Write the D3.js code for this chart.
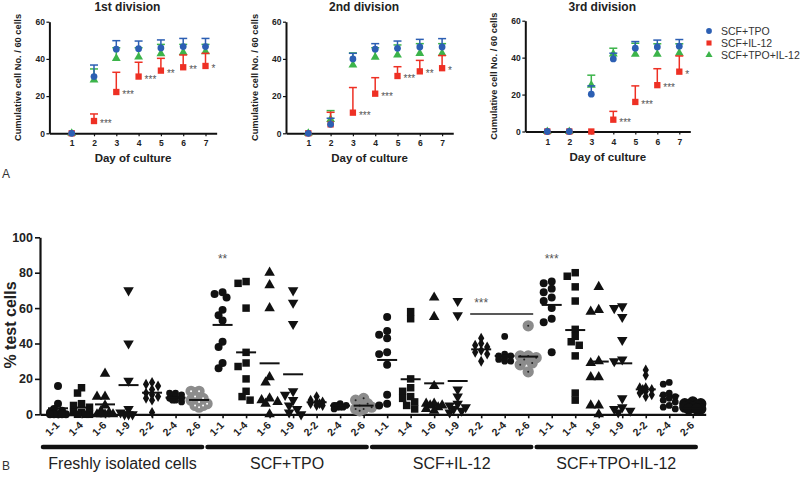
<!DOCTYPE html>
<html>
<head>
<meta charset="utf-8">
<script src="https://cdn.jsdelivr.net/npm/d3@7"></script>
<style>
  body { margin: 0; background: #fff; }
  svg { display: block; font-family: "Liberation Sans", Arial, sans-serif; }
</style>
</head>
<body>
<svg id="chart" width="800" height="477"></svg>
<script>

/**
 * panel A data : cumulative cell no. / 60 cells, one-sided (upper) error bars
 */
var day_list = [1, 2, 3, 4, 5, 6, 7];
var series_names = ['SCF+TPO', 'SCF+IL-12', 'SCF+TPO+IL-12'];
var division_titles = ['1st division', '2nd division', '3rd division'];

var div1_tpo = [0, 30.5, 45.2, 45.5, 45.9, 46.6, 46.6];
var div1_tpo_err = [0, 6.2, 4.6, 4.1, 4.3, 4.4, 4.4];
var div1_il12 = [0, 6.6, 22.2, 30.5, 33.7, 35.5, 36.2];
var div1_il12_err = [0, 3.8, 10.6, 7.7, 6.6, 6.6, 6.8];
var div1_tpoil12 = [0, 28.7, 40.3, 41, 42.8, 43.5, 43.9];
var div1_tpoil12_err = [0, 5.9, 5.7, 5, 5, 4.3, 3.9];
var div1_stars = ['', '***', '***', '***', '**', '**', '*'];

var div2_tpo = [0, 4.8, 40, 45.2, 45.7, 46.4, 46.4];
var div2_tpo_err = [0, 3.3, 3, 3, 3.9, 4.1, 4.5];
var div2_il12 = [0, 4.8, 11.1, 21.3, 30.8, 33.3, 35];
var div2_il12_err = [0, 6.5, 13.5, 8.6, 5, 5.9, 6.8];
var div2_tpoil12 = [0, 7.5, 36.7, 40.9, 42.1, 43, 43];
var div2_tpoil12_err = [0, 4.7, 6.5, 5.1, 5.4, 5.2, 5.2];
var div2_stars = ['', '', '***', '***', '***', '**', '*'];

var div3_tpo = [0, 0, 20.2, 39.3, 45.1, 45.8, 46.2];
var div3_tpo_err = [0, 0, 4.5, 3.1, 3.6, 3.7, 3.6];
var div3_il12 = [0, 0, 0, 6.4, 16, 25.1, 32.4];
var div3_il12_err = [0, 0, 0, 4.5, 8.7, 8.9, 8.5];
var div3_tpoil12 = [0, 0, 25.1, 42, 41.8, 41.8, 42.4];
var div3_tpoil12_err = [0, 0, 5.4, 3.1, 6, 5.7, 5.1];
var div3_stars = ['', '', '', '***', '***', '***', '*'];

var top_y_ticks = [0, 20, 40, 60];

/**
 * panel B data : % test cells per clone type, per culture condition
 */
var category_labels = ['1-1', '1-4', '1-6', '1-9', '2-2', '2-4', '2-6'];
var group_labels = ['Freshly isolated cells', 'SCF+TPO', 'SCF+IL-12', 'SCF+TPO+IL-12'];
var bottom_y_ticks = [0, 20, 40, 60, 80, 100];

var fresh_values = [
  [16, 6, 3, 2, 1, 0, 0, 0, 0, 0],
  [15, 12, 6, 5, 4, 1, 1, 0, 0, 0],
  [23, 10, 10, 5, 2, 1, 0, 0, 0, 0],
  [70, 40, 19, 3, 1, 0, 0, 0],
  [18, 17, 16, 14, 12, 11, 10, 9, 8, 1],
  [12, 12, 11, 11, 10, 9, 9, 8, 8, 7],
  [13, 13, 10, 9, 8, 7, 6, 5, 5, 4]
];
var fresh_means = [3.4, 3.8, 5.6, 16.5, 12.2, 9.4, 8.1];

var tpo_values = [
  [69, 68, 66, 59, 56, 53, 41, 38, 29, 26],
  [75, 74, 60, 35, 29, 27, 20, 13, 10, 8],
  [80, 73, 60, 21, 18, 9, 8, 7, 6, 0],
  [70, 63, 51, 13, 11, 8, 5, 3, 1, 0],
  [10, 8, 7, 7, 6, 6, 5, 5],
  [6, 5, 5, 5, 4, 4, 4, 3],
  [9, 8, 6, 5, 4, 3, 3, 2]
];
var tpo_means = [50.5, 35, 28.8, 22.6, 6.8, 4.9, 4.9];

var il12_values = [
  [55, 47, 45, 43, 35, 34, 28, 11, 6, 5],
  [58, 54, 20, 15, 13, 10, 9, 7, 5, 3],
  [66, 55, 16, 6, 6, 5, 5, 4, 3, 2],
  [64, 56, 14, 10, 6, 5, 4, 3, 2, 1],
  [43, 40, 39, 38, 36, 35, 34, 30],
  [44, 34, 33, 33, 32, 31, 30, 30],
  [50, 33, 33, 32, 31, 29, 28, 24]
];
var il12_means = [30.7, 19.8, 17.5, 18.8, 36.7, 33, 32.6];

var tpoil12_values = [
  [75, 74, 71, 69, 66, 64, 60, 54, 52, 35],
  [80, 78, 72, 64, 48, 44, 41, 39, 33, 12, 8],
  [72, 59, 58, 30, 29, 21, 21, 5, 5, 0],
  [61, 60, 55, 42, 31, 30, 9, 4, 3, 2, 1],
  [25, 22, 15, 15, 14, 14, 13, 12, 11, 10],
  [18, 17, 12, 11, 10, 9, 8, 7, 5, 4, 3],
  [7, 6, 6, 5, 5, 4, 4, 3, 3, 3]
];
var tpoil12_means = [61.8, 47.6, 29.8, 28.8, 14.1, 10.5, 3.4];

var group_stars = [
  { category: 7, value: 88, text: '**' },
  { category: 21, value: 88, text: '***' }
];
// SCF+IL-12 2-2 .. 2-6 significance bar
var bracket_from = 18, bracket_to = 20, bracket_value = 56.6, bracket_text = '***';


/**
 * drawing container
 */
var app_chart = (function () {

  var svg = d3.select('#chart');
  var colors = { 'SCF+TPO': '#2c5fb3', 'SCF+IL-12': '#ee3024', 'SCF+TPO+IL-12': '#3cb44a' };
  var bold_font = 'bold';

  function drawDivisionPanels() {
    var panels = [
      { x0: 49.4, step: 22.3, y0: 133.3, y60: 21.7, title: division_titles[0],
        tpo: div1_tpo, tpo_err: div1_tpo_err, il12: div1_il12, il12_err: div1_il12_err,
        tpoil12: div1_tpoil12, tpoil12_err: div1_tpoil12_err, stars: div1_stars },
      { x0: 286, step: 22.3, y0: 133.3, y60: 21.7, title: division_titles[1],
        tpo: div2_tpo, tpo_err: div2_tpo_err, il12: div2_il12, il12_err: div2_il12_err,
        tpoil12: div2_tpoil12, tpoil12_err: div2_tpoil12_err, stars: div2_stars },
      { x0: 525.3, step: 22, y0: 131.5, y60: 20.7, title: division_titles[2],
        tpo: div3_tpo, tpo_err: div3_tpo_err, il12: div3_il12, il12_err: div3_il12_err,
        tpoil12: div3_tpoil12, tpoil12_err: div3_tpoil12_err, stars: div3_stars }
    ];

    panels.forEach(function (p) {
      var x = d3.scaleLinear().domain([0, 7.5]).range([p.x0, p.x0 + 7.5 * p.step]);
      var y = d3.scaleLinear().domain([0, 60]).range([p.y0, p.y60]);
      var g = svg.append('g');

      // axes
      var y_axis = g.append('g').attr('transform', 'translate(' + p.x0 + ',0)')
        .call(d3.axisLeft(y).tickValues(top_y_ticks).tickSize(3).tickPadding(1.5).tickSizeOuter(0));
      var x_axis = g.append('g').attr('transform', 'translate(0,' + p.y0 + ')')
        .call(d3.axisBottom(x).tickValues(day_list).tickSize(3).tickPadding(4).tickSizeOuter(0));
      [y_axis, x_axis].forEach(function (a) {
        a.select('.domain').attr('stroke', '#111').attr('stroke-width', 2);
        a.selectAll('.tick line').attr('stroke', '#111').attr('stroke-width', 1.2);
        a.selectAll('.tick text').attr('font-size', 8.5).attr('font-weight', bold_font)
          .attr('fill', '#222').attr('font-family', 'Liberation Sans, Arial, sans-serif');
      });

      g.append('text').attr('x', x(3.5)).attr('y', 11).attr('text-anchor', 'middle')
        .attr('font-size', 12).attr('font-weight', bold_font).attr('fill', '#222').text(p.title);
      g.append('text').attr('x', x(3.75)).attr('y', p.y0 + 29).attr('text-anchor', 'middle')
        .attr('font-size', 11.5).attr('font-weight', bold_font).attr('fill', '#222').text('Day of culture');
      g.append('text')
        .attr('transform', 'translate(' + (p.x0 - 28) + ',' + y(30) + ') rotate(-90)')
        .attr('text-anchor', 'middle').attr('font-size', 9.3).attr('font-weight', bold_font)
        .attr('fill', '#222').text('Cumulative cell No. / 60 cells');

      // series : green, red, then blue on top
      var series = [
        { name: series_names[2], vals: p.tpoil12, err: p.tpoil12_err, sym: d3.symbolTriangle, size: 34 },
        { name: series_names[1], vals: p.il12, err: p.il12_err, sym: d3.symbolSquare, size: 40 },
        { name: series_names[0], vals: p.tpo, err: p.tpo_err, sym: d3.symbolCircle, size: 36 }
      ];

      series.forEach(function (s) {
        var c = colors[s.name];
        var sg = g.append('g');
        var pts = day_list.map(function (d, i) { return { day: d, v: s.vals[i], e: s.err[i] }; });

        sg.selectAll('line.bar').data(pts.filter(function (d) { return d.e > 0; })).enter()
          .append('line').attr('class', 'bar')
          .attr('x1', function (d) { return x(d.day); }).attr('x2', function (d) { return x(d.day); })
          .attr('y1', function (d) { return y(d.v); }).attr('y2', function (d) { return y(d.v + d.e); })
          .attr('stroke', c).attr('stroke-width', 1.5);
        sg.selectAll('line.cap').data(pts.filter(function (d) { return d.e > 0; })).enter()
          .append('line').attr('class', 'cap')
          .attr('x1', function (d) { return x(d.day) - 4; }).attr('x2', function (d) { return x(d.day) + 4; })
          .attr('y1', function (d) { return y(d.v + d.e); }).attr('y2', function (d) { return y(d.v + d.e); })
          .attr('stroke', c).attr('stroke-width', 1.5);
        sg.selectAll('path').data(pts).enter().append('path')
          .attr('d', d3.symbol().type(s.sym).size(s.size))
          .attr('transform', function (d) { return 'translate(' + x(d.day) + ',' + y(d.v) + ')'; })
          .attr('fill', c);
      });

      g.selectAll('text.star').data(day_list).enter().append('text').attr('class', 'star')
        .attr('x', function (d) { return x(d) + 6; })
        .attr('y', function (d, i) { return y(p.il12[i]) + 6; })
        .attr('font-size', 10).attr('fill', '#555')
        .text(function (d, i) { return p.stars[i]; });
    });

    // legend
    var legend_syms = [d3.symbolCircle, d3.symbolSquare, d3.symbolTriangle];
    var lg = svg.append('g');
    series_names.forEach(function (n, i) {
      lg.append('path').attr('d', d3.symbol().type(legend_syms[i]).size(i == 2 ? 22 : 26))
        .attr('transform', 'translate(709,' + (31 + i * 12) + ')').attr('fill', colors[n]);
      lg.append('text').attr('x', 721).attr('y', 35 + i * 12).attr('font-size', 10.5)
        .attr('fill', '#333').text(n);
    });

    svg.append('text').attr('x', 2).attr('y', 178).attr('font-size', 12).attr('fill', '#333').text('A');
  }


  /**
   * column scatter arrangement : spread overlapping points sideways, a little
   */
  function arrangePoints(values, y, spacing) {
    var placed = [];
    var d = spacing * 0.5;
    var offsets = [0, -d, d, -2 * d, 2 * d];
    values.slice().sort(function (a, b) { return b - a; }).forEach(function (v) {
      var py = y(v);
      var best_dx = 0, best_gap = -1;
      for (var k = 0; k < offsets.length; k++) {
        var gap = d3.min(placed, function (q) { return Math.hypot(q.dx - offsets[k], q.y - py); });
        if (gap === undefined) { gap = Infinity; }
        if (gap >= spacing * 0.8) { best_dx = offsets[k]; best_gap = gap; break; }
        if (gap > best_gap) { best_gap = gap; best_dx = offsets[k]; }
      }
      placed.push({ v: v, dx: best_dx, y: py });
    });
    return placed;
  }

  function drawClonePanel() {
    var all_values = [fresh_values, tpo_values, il12_values, tpoil12_values];
    var all_means = [fresh_means, tpo_means, il12_means, tpoil12_means];
    var n_cat = category_labels.length;

    var x = d3.scaleLinear().domain([-0.766, 27.55]).range([40, 705.7]);
    var y = d3.scaleLinear().domain([0, 100]).range([414.3, 237.3]);
    var g = svg.append('g');

    var flat_labels = [];
    group_labels.forEach(function () { flat_labels = flat_labels.concat(category_labels); });
    var cat_index = d3.range(flat_labels.length);

    var y_axis = g.append('g').attr('transform', 'translate(40,0)')
      .call(d3.axisLeft(y).tickValues(bottom_y_ticks).tickSize(5).tickPadding(2).tickSizeOuter(0));
    var x_axis = g.append('g').attr('transform', 'translate(0,414.3)')
      .call(d3.axisBottom(x).tickValues(cat_index).tickSize(4).tickSizeOuter(0)
        .tickFormat(function (i) { return flat_labels[i]; }));
    [y_axis, x_axis].forEach(function (a) {
      a.select('.domain').attr('stroke', '#111').attr('stroke-width', 2.2);
      a.selectAll('.tick line').attr('stroke', '#111').attr('stroke-width', 1.6);
      a.selectAll('.tick text').attr('font-weight', 'bold').attr('fill', '#222')
        .attr('font-family', 'Liberation Sans, Arial, sans-serif');
    });
    y_axis.selectAll('.tick text').attr('font-size', 12.5);
    x_axis.selectAll('.tick text').attr('font-size', 10.5).attr('text-anchor', 'end')
      .attr('x', 0).attr('y', 0).attr('dy', '0.35em').attr('transform', 'translate(-1,9) rotate(-45)');

    g.append('text').attr('transform', 'translate(16,325) rotate(-90)').attr('text-anchor', 'middle')
      .attr('font-size', 16).attr('font-weight', 'bold').attr('fill', '#222').text('% test cells');

    // points
    var shapes = [
      { sym: d3.symbolCircle, size: 50, rot: 0 },
      { sym: d3.symbolSquare, size: 56, rot: 0 },
      { sym: d3.symbolTriangle, size: 48, rot: 0 },
      { sym: d3.symbolTriangle, size: 48, rot: 180 },
      { sym: d3.symbolDiamond, size: 34, rot: 0 },
      { sym: d3.symbolCircle, size: 36, rot: 0 },
      { sym: d3.symbolCircle, size: 100, rot: 0 }
    ];

    all_values.forEach(function (group_vals, gi) {
      group_vals.forEach(function (vals, ci) {
        var idx = gi * n_cat + ci;
        var cx = x(idx);
        var shape = shapes[ci];
        var grey = (ci == 6 && gi < 3);
        var spacing = (ci == 6) ? 8 : (ci >= 4 ? 6 : 8);
        var pts = arrangePoints(vals, y, spacing);
        var cg = g.append('g');

        cg.selectAll('path').data(pts).enter().append('path')
          .attr('d', d3.symbol().type(shape.sym).size(shape.size))
          .attr('transform', function (d) {
            return 'translate(' + (cx + d.dx) + ',' + d.y + ') rotate(' + shape.rot + ')';
          })
          .attr('fill', grey ? '#8c8c8c' : '#111');

        if (grey) {
          cg.selectAll('circle').data(pts).enter().append('circle')
            .attr('cx', function (d) { return cx + d.dx; }).attr('cy', function (d) { return d.y; })
            .attr('r', 1).attr('fill', gi == 0 ? '#fff' : '#222');
        }

        var m = all_means[gi][ci];
        cg.append('line').attr('x1', cx - 10).attr('x2', cx + 10)
          .attr('y1', y(m)).attr('y2', y(m)).attr('stroke', '#111').attr('stroke-width', 2);
      });

      // group underline + label
      var first = x(gi * n_cat), last = x(gi * n_cat + n_cat - 1);
      g.append('line').attr('x1', first - 15).attr('x2', last + 3).attr('y1', 447).attr('y2', 447)
        .attr('stroke', '#111').attr('stroke-width', 4.5).attr('stroke-linecap', 'round');
      g.append('text').attr('x', (first - 15 + last + 3) / 2).attr('y', 469).attr('text-anchor', 'middle')
        .attr('font-size', 16).attr('fill', '#222').text(group_labels[gi]);
    });

    // significance marks
    group_stars.forEach(function (s) {
      g.append('text').attr('x', x(s.category)).attr('y', y(s.value) + 4).attr('text-anchor', 'middle')
        .attr('font-size', 12).attr('fill', '#555').text(s.text);
    });
    g.append('line').attr('x1', x(bracket_from) - 11).attr('x2', x(bracket_to) + 5)
      .attr('y1', y(bracket_value)).attr('y2', y(bracket_value)).attr('stroke', '#222').attr('stroke-width', 1.5);
    g.append('text').attr('x', x(bracket_from)).attr('y', y(bracket_value) - 7)
      .attr('font-size', 12).attr('fill', '#555').attr('text-anchor', 'middle').text(bracket_text);

    svg.append('text').attr('x', 2).attr('y', 470).attr('font-size', 12).attr('fill', '#333').text('B');
  }

  return {
    'drawDivisionPanels': drawDivisionPanels,
    'drawClonePanel': drawClonePanel
  };

}());

app_chart.drawDivisionPanels();
app_chart.drawClonePanel();

</script>
</body>
</html>
